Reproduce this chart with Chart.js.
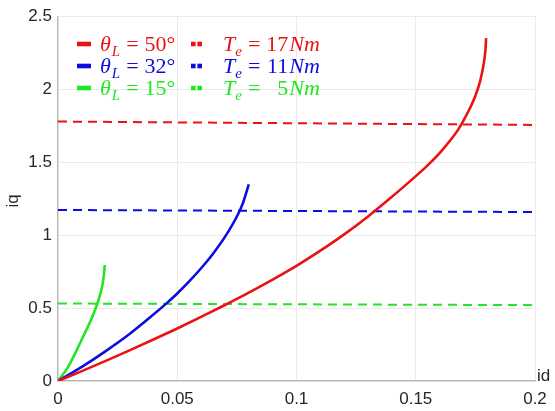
<!DOCTYPE html>
<html><head><meta charset="utf-8">
<script src="https://cdn.jsdelivr.net/npm/chart.js@4"></script>
<style>html,body{margin:0;padding:0;background:#fff}#wrap{position:relative;width:555px;height:411px}</style>
</head><body><div id="wrap"><canvas id="c" width="555" height="411"></canvas></div>
<script>
// Data
const idRed   = [0, 0.01, 0.02, 0.03, 0.04, 0.05, 0.06, 0.07, 0.08, 0.09, 0.10, 0.11, 0.12, 0.13, 0.14, 0.15, 0.155, 0.16, 0.165, 0.1675, 0.17, 0.1725, 0.175, 0.177, 0.1785, 0.1792, 0.1795];
const iqRed   = [0, 0.068, 0.138, 0.210, 0.284, 0.360, 0.439, 0.521, 0.606, 0.695, 0.789, 0.893, 1.005, 1.128, 1.262, 1.404, 1.478, 1.562, 1.660, 1.716, 1.785, 1.862, 1.955, 2.055, 2.175, 2.266, 2.350];
const idBlue  = [0, 0.01, 0.02, 0.03, 0.04, 0.045, 0.05, 0.055, 0.06, 0.065, 0.07, 0.075, 0.0775, 0.08];
const iqBlue  = [0, 0.097, 0.205, 0.322, 0.455, 0.525, 0.600, 0.6825, 0.7725, 0.8725, 0.9875, 1.1275, 1.2175, 1.347];
const idGreen = [0, 0.004, 0.0078, 0.0113, 0.0144, 0.0165, 0.0178, 0.0187, 0.0193, 0.0196];
const iqGreen = [0, 0.09, 0.21, 0.33, 0.44, 0.53, 0.60, 0.665, 0.735, 0.795];
const idTorque = [0, 0.2];
const iqT17 = [1.778, 1.755];
const iqT11 = [1.172, 1.158];
const iqT5  = [0.531, 0.52];
const xTicks = [0, 0.05, 0.1, 0.15, 0.2];
const yTicks = [0, 0.5, 1, 1.5, 2, 2.5];
const legendAngles = ['50°', '32°', '15°'];
const legendTorques = ['17', '11', '5'];

const RED = '#ea1212', BLUE = '#0c0ce0', GREEN = '#22e622';
const pts = (xs, ys) => xs.map((x, i) => ({x, y: ys[i]}));

const solid = (data, color) => ({data, borderColor: color, borderWidth: 2.6, pointRadius: 0,
  cubicInterpolationMode: 'monotone', fill: false});
const dashed = (data, color) => ({data, borderColor: color, borderWidth: 2, pointRadius: 0,
  borderDash: [9, 6], fill: false});

const overlay = {
  id: 'overlay',
  afterDraw(chart) {
    const ctx = chart.ctx;
    ctx.save();
    ctx.fillStyle = '#262626';
    ctx.font = '17px "Liberation Sans", Arial, sans-serif';
    ctx.textBaseline = 'alphabetic';
    ctx.textAlign = 'left';
    ctx.fillText('id', 537, 381);
    ctx.translate(18, 201);
    ctx.rotate(-Math.PI / 2);
    ctx.textAlign = 'center';
    ctx.fillText('iq', 0, 0);
    ctx.restore();

    // legend
    const colors = [RED, BLUE, GREEN];
    const baselines = [51, 73, 95];
    const swy = [44, 66, 88];
    const ser = '"Liberation Serif", "Times New Roman", serif';
    for (let i = 0; i < 3; i++) {
      ctx.save();
      ctx.fillStyle = colors[i];
      ctx.fillRect(77, swy[i] - 2.3, 14, 4.6);
      ctx.fillRect(191, swy[i] - 2.3, 4.6, 4.6);
      ctx.fillRect(197.4, swy[i] - 2.3, 4.6, 4.6);
      ctx.textBaseline = 'alphabetic';
      ctx.textAlign = 'left';
      const b = baselines[i];
      let x = 100;
      ctx.font = 'italic 22px ' + ser; ctx.fillText('θ', x, b); x += ctx.measureText('θ').width + 1;
      ctx.font = 'italic 15px ' + ser; ctx.fillText('L', x, b + 5); x += ctx.measureText('L').width + 6;
      ctx.font = '22px ' + ser; ctx.fillText('=', x, b); x += ctx.measureText('=').width + 6;
      ctx.fillText(legendAngles[i], x, b);
      x = 223;
      ctx.font = 'italic 22px ' + ser; ctx.fillText('T', x, b); x += ctx.measureText('T').width;
      ctx.font = 'italic 15px ' + ser; ctx.fillText('e', x, b + 5); x += ctx.measureText('e').width + 6;
      ctx.font = '22px ' + ser; ctx.fillText('=', x, b); x += ctx.measureText('=').width + 6;
      const full = ctx.measureText('17').width;
      const w = ctx.measureText(legendTorques[i]).width;
      ctx.fillText(legendTorques[i], x + full - w, b); x += full + 1;
      ctx.font = 'italic 22px ' + ser; ctx.fillText('Nm', x, b);
      ctx.restore();
    }
  }
};

new Chart(document.getElementById('c'), {
  type: 'line',
  data: {datasets: [
    solid(pts(idRed, iqRed), RED),
    solid(pts(idBlue, iqBlue), BLUE),
    solid(pts(idGreen, iqGreen), GREEN),
    dashed(pts(idTorque, iqT17), RED),
    dashed(pts(idTorque, iqT11), BLUE),
    dashed(pts(idTorque, iqT5), GREEN)
  ]},
  options: {
    responsive: false, animation: false, devicePixelRatio: 1,
    layout: {padding: {top: 14, right: 20, left: 0, bottom: 0}},
    plugins: {legend: {display: false}, tooltip: {enabled: false}},
    scales: {
      x: {type: 'linear', min: 0, max: 0.2,
        afterFit: s => { s.height = 30; },
        afterBuildTicks: s => { s.ticks = xTicks.map(v => ({value: v})); },
        ticks: {color: '#262626', font: {size: 17, family: '"Liberation Sans", Arial, sans-serif'}, padding: 8,
          maxRotation: 0, autoSkip: false, callback: v => String(v)},
        grid: {color: '#ebebeb', drawTicks: false, lineWidth: 1},
        border: {color: '#b4b4b4', width: 1.2}},
      y: {type: 'linear', min: 0, max: 2.5,
        afterFit: s => { s.width = 58; },
        afterBuildTicks: s => { s.ticks = yTicks.map(v => ({value: v})); },
        ticks: {color: '#262626', font: {size: 17, family: '"Liberation Sans", Arial, sans-serif'}, padding: 6,
          autoSkip: false, callback: v => String(v)},
        grid: {color: '#ebebeb', drawTicks: false, lineWidth: 1},
        border: {color: '#b4b4b4', width: 1.2}}
    }
  },
  plugins: [overlay]
});
</script></body></html>
